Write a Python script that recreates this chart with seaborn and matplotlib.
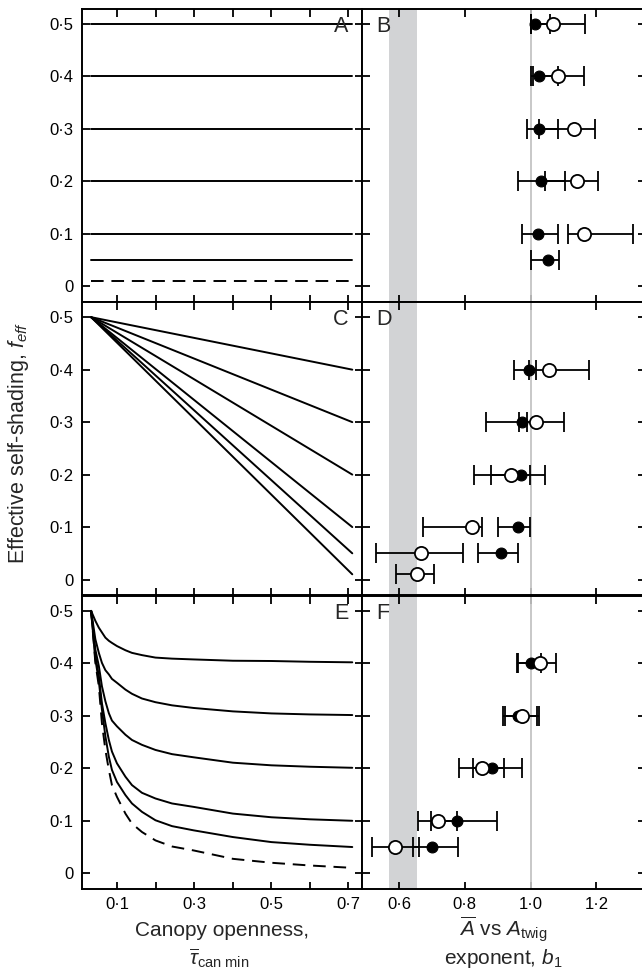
import numpy as np
import pandas as pd
import seaborn as sns
import matplotlib.pyplot as plt

# ---- data ----
f_levels = [0.5, 0.4, 0.3, 0.2, 0.1, 0.05, 0.01]
tau_start, tau_end = 0.032, 0.71

# panel C: straight lines from (tau_start, 0.5) to (tau_end, f)
c_levels = [0.4, 0.3, 0.2, 0.1, 0.05, 0.01]

# panel E: curves read at these openness values
e_x = [0.032, 0.043, 0.052, 0.060, 0.069, 0.078, 0.086, 0.099, 0.121, 0.138,
       0.164, 0.199, 0.242, 0.298, 0.400, 0.500, 0.600, 0.710]
e_040 = [0.5, 0.481, 0.468, 0.459, 0.449, 0.443, 0.439, 0.433, 0.425, 0.420,
         0.4157, 0.411, 0.409, 0.4075, 0.405, 0.4045, 0.403, 0.402]
e_030 = [0.5, 0.4458, 0.420, 0.401, 0.387, 0.379, 0.3704, 0.363, 0.350, 0.342,
         0.333, 0.326, 0.320, 0.315, 0.3085, 0.3046, 0.3027, 0.3015]
e_020 = [0.5, 0.426, 0.395, 0.3564, 0.3277, 0.305, 0.291, 0.280, 0.264, 0.254,
         0.2447, 0.235, 0.227, 0.221, 0.2107, 0.2057, 0.203, 0.201]
e_010 = [0.5, 0.414, 0.376, 0.324, 0.286, 0.254, 0.232, 0.2095, 0.184, 0.168,
         0.1533, 0.1425, 0.133, 0.1265, 0.1137, 0.1067, 0.1028, 0.100]
e_005 = [0.5, 0.4075, 0.366, 0.312, 0.261, 0.222, 0.197, 0.174, 0.149, 0.133,
         0.117, 0.101, 0.0898, 0.0818, 0.069, 0.0594, 0.0543, 0.050]
e_001 = [0.5, 0.401, 0.3564, 0.286, 0.235, 0.197, 0.168, 0.1456, 0.1137, 0.0946,
         0.0786, 0.0626, 0.051, 0.0435, 0.0275, 0.020, 0.0148, 0.0103]

# panel B
b_fill_y = [0.5, 0.4, 0.3, 0.2, 0.1, 0.05]
b_fill = [1.014, 1.027, 1.025, 1.032, 1.022, 1.052]
b_fill_lo = [1.000, 1.000, 0.990, 0.963, 0.975, 1.000]
b_fill_hi = [1.060, 1.082, 1.082, 1.106, 1.082, 1.085]
b_open_y = [0.5, 0.4, 0.3, 0.2, 0.1]
b_open = [1.067, 1.082, 1.132, 1.141, 1.162]
b_open_lo = [1.000, 1.007, 1.025, 1.043, 1.113]
b_open_hi = [1.165, 1.162, 1.195, 1.205, 1.312]

# panel D
d_fill_y = [0.4, 0.3, 0.2, 0.1, 0.05]
d_fill = [0.996, 0.975, 0.970, 0.963, 0.909]
d_fill_lo = [0.951, 0.966, 0.880, 0.902, 0.841]
d_fill_hi = [1.016, 0.990, 1.043, 0.999, 0.961]
d_open_y = [0.4, 0.3, 0.2, 0.1, 0.05, 0.01]
d_open = [1.057, 1.016, 0.941, 0.823, 0.668, 0.653]
d_open_lo = [0.996, 0.864, 0.829, 0.673, 0.529, 0.590]
d_open_hi = [1.179, 1.103, 0.999, 0.851, 0.795, 0.707]

# panel F
f_fill_y = [0.4, 0.3, 0.2, 0.1, 0.05]
f_fill = [1.000, 0.963, 0.884, 0.775, 0.699]
f_fill_lo = [0.958, 0.915, 0.826, 0.697, 0.641]
f_fill_hi = [1.032, 1.019, 0.974, 0.897, 0.778]
f_open_y = [0.4, 0.3, 0.2, 0.1, 0.05]
f_open = [1.029, 0.973, 0.851, 0.719, 0.589]
f_open_lo = [0.963, 0.922, 0.783, 0.658, 0.519]
f_open_hi = [1.078, 1.026, 0.919, 0.777, 0.660]

band = (0.57, 0.653)
y_ticks = [0, 0.1, 0.2, 0.3, 0.4, 0.5]
y_labels = ['0', '0·1', '0·2', '0·3', '0·4', '0·5']
left_ticks = [0.1, 0.2, 0.3, 0.4, 0.5, 0.6, 0.7]
left_labels = ['0·1', '', '0·3', '', '0·5', '', '0·7']
right_ticks = [0.6, 0.8, 1.0, 1.2]
right_labels = ['0·6', '0·8', '1·0', '1·2']

# ---- style ----
sns.set_style('ticks')
plt.rcParams['font.family'] = ['Liberation Sans', 'DejaVu Sans']
plt.rcParams['mathtext.fontset'] = 'custom'
plt.rcParams['mathtext.rm'] = 'Liberation Sans'
plt.rcParams['mathtext.it'] = 'Liberation Sans:italic'
plt.rcParams['axes.linewidth'] = 1.4
plt.rcParams['axes.edgecolor'] = 'black'

fig = plt.figure(figsize=(6.42, 9.77), dpi=100)
L, LW = 81.7 / 642, 280.6 / 642
R, RW = 362.3 / 642, 283 / 642
H = 293.33 / 977
bottoms = [(977 - 302) / 977, (977 - 595.3) / 977, (977 - 889) / 977]

axes = []
for b in bottoms:
    axl = fig.add_axes([L, b, LW, H])
    axr = fig.add_axes([R, b, RW, H])
    axes.append((axl, axr))

lw = 1.4
tfs = 12
for i, (axl, axr) in enumerate(axes):
    for ax in (axl, axr):
        ax.set_ylim(-0.03, 0.529)
        ax.set_yticks(y_ticks)
        ax.tick_params(direction='in', top=True, right=True, length=5.4,
                       width=1.3, labelsize=tfs, pad=6, colors='black')
    axl.set_xlim(0.0075, 0.736)
    axl.set_xticks(left_ticks)
    axl.set_yticklabels(y_labels, fontsize=tfs)
    axr.set_yticklabels([])
    axr.set_xlim(0.488, 1.349)
    axr.set_xticks(right_ticks)
    if i == 2:
        axl.set_xticklabels(left_labels, fontsize=tfs)
        axr.set_xticklabels(right_labels, fontsize=tfs)
    else:
        axl.set_xticklabels([])
        axr.set_xticklabels([])
    axr.axvspan(*band, color='#d2d3d5', lw=0, zorder=0)
    axr.axvline(1.0, color='#c4c4c4', lw=1.3, zorder=1)

def curve(ax, xs, ys, dashed=False):
    df = pd.DataFrame({'x': xs, 'f': ys})
    sns.lineplot(data=df, x='x', y='f', ax=ax, color='black', lw=lw)
    if dashed:
        ax.get_lines()[-1].set_dashes((6.5, 4))

# panel A
axA = axes[0][0]
for f in f_levels:
    curve(axA, [tau_start, tau_end], [f, f], dashed=(f == 0.01))
# panel C
axC = axes[1][0]
for f in c_levels:
    curve(axC, [tau_start, tau_end], [0.5, f])
# panel E
axE = axes[2][0]
for ys in [e_040, e_030, e_020, e_010, e_005]:
    curve(axE, e_x, ys)
curve(axE, e_x, e_001, dashed=True)

def points(ax, y, m, lo, hi, filled):
    m, lo, hi = np.array(m), np.array(lo), np.array(hi)
    ax.errorbar(m, y, xerr=[m - lo, hi - m], fmt='none', ecolor='black',
                elinewidth=1.3, capsize=7, capthick=1.3, zorder=2)
    df = pd.DataFrame({'b': m, 'f': y})
    if filled:
        sns.scatterplot(data=df, x='b', y='f', ax=ax, s=61, color='black',
                        edgecolor='black', linewidth=0.8, zorder=3)
    else:
        sns.scatterplot(data=df, x='b', y='f', ax=ax, s=90, color='white',
                        edgecolor='black', linewidth=1.3, zorder=4)

points(axes[0][1], b_fill_y, b_fill, b_fill_lo, b_fill_hi, True)
points(axes[0][1], b_open_y, b_open, b_open_lo, b_open_hi, False)
points(axes[1][1], d_fill_y, d_fill, d_fill_lo, d_fill_hi, True)
points(axes[1][1], d_open_y, d_open, d_open_lo, d_open_hi, False)
points(axes[2][1], f_fill_y, f_fill, f_fill_lo, f_fill_hi, True)
points(axes[2][1], f_open_y, f_open, f_open_lo, f_open_hi, False)

for (axl, axr), (a, b) in zip(axes, [('A', 'B'), ('C', 'D'), ('E', 'F')]):
    for ax in (axl, axr):
        ax.set_xlabel('')
        ax.set_ylabel('')
    axl.text(0.95, 0.976, a, transform=axl.transAxes, ha='right', va='top', fontsize=15.5)
    axr.text(0.048, 0.976, b, transform=axr.transAxes, ha='left', va='top', fontsize=15.5)

# axis titles
fig.text(222 / 642, 1 - 936 / 977, 'Canopy openness,', ha='center', va='baseline', fontsize=15)
fig.text(219 / 642, 1 - 965 / 977, r'$\overline{\tau}_{\mathrm{can\ min}}$', ha='center',
         va='baseline', fontsize=15)
fig.text(503 / 642, 1 - 936 / 977, r'$\overline{A}$ vs $A_{\mathrm{twig}}$', ha='center',
         va='baseline', fontsize=15)
fig.text(503 / 642, 1 - 964 / 977, r'exponent, $b_1$', ha='center', va='baseline', fontsize=15)
fig.text(19 / 642, 1 - 443 / 977, r'Effective self-shading, $f_{eff}$', rotation=90,
         ha='center', va='center', fontsize=15.5)

plt.savefig('out.png', dpi=100)
